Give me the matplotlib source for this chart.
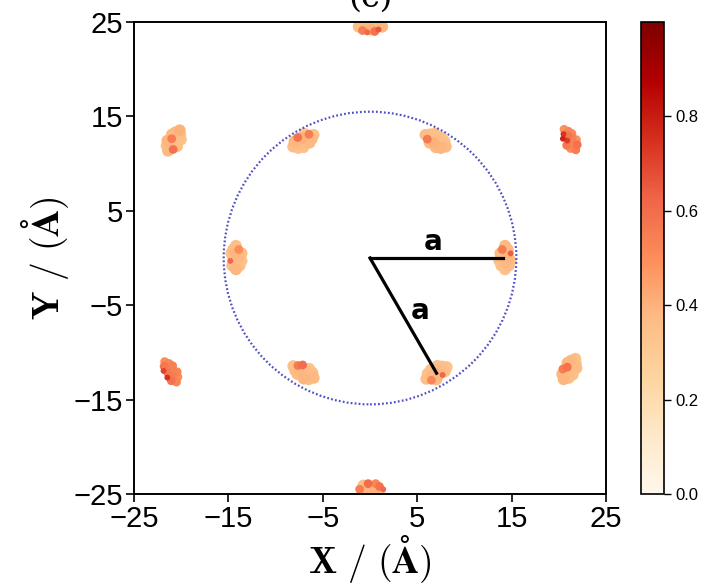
import matplotlib.pyplot as plt
import numpy as np
from matplotlib.patches import Circle

# site clusters (x, y, colour value)
top_x = [-1.2, -0.8, -0.8, -0.4, -0.3, -0.3, 0.1, 0.1, 0.5, 0.5, 0.5, 0.9, 0.9, 1.3]
top_y = [24.5, 24.9, 24.1, 24.5, 25.1, 23.9, 24.8, 24.2, 25.1, 24.0, 24.5, 24.8, 24.2, 24.5]
top_v = [0.36, 0.34, 0.55, 0.38, 0.33, 0.62, 0.36, 0.40, 0.33, 0.58, 0.37, 0.35, 0.66, 0.39]

bot_x = [-1.1, -0.7, -0.7, -0.3, -0.2, -0.2, 0.2, 0.2, 0.6, 0.6, 0.6, 1.0, 1.0, 1.4]
bot_y = [-24.5, -24.1, -24.9, -24.5, -23.9, -25.1, -24.2, -24.8, -23.9, -25.0, -24.5, -24.2, -24.8, -24.5]
bot_v = [0.55, 0.36, 0.34, 0.39, 0.60, 0.35, 0.37, 0.33, 0.52, 0.36, 0.40, 0.58, 0.34, 0.62]

uli_x = [-8.14, -8.00, -7.60, -7.45, -7.66, -7.06, -7.16, -6.86, -6.96, -6.41, -6.66, -6.47, -6.17, -5.97]
uli_y = [11.80, 12.35, 11.65, 12.20, 12.77, 11.73, 12.71, 12.19, 13.17, 12.21, 12.65, 13.11, 12.59, 13.05]
uli_v = [0.36, 0.39, 0.34, 0.37, 0.58, 0.35, 0.40, 0.36, 0.33, 0.38, 0.35, 0.55, 0.37, 0.34]

uri_x = [8.04, 7.90, 7.50, 7.35, 7.56, 6.96, 7.06, 6.76, 6.86, 6.31, 6.56, 6.37, 6.07, 5.87]
uri_y = [11.80, 12.35, 11.65, 12.20, 12.77, 11.73, 12.71, 12.19, 13.17, 12.21, 12.65, 13.11, 12.59, 13.05]
uri_v = [0.37, 0.35, 0.39, 0.36, 0.34, 0.38, 0.33, 0.40, 0.35, 0.37, 0.36, 0.34, 0.56, 0.36]

lft_x = [-14.2, -13.8, -14.6, -14.2, -13.6, -14.8, -13.9, -14.5, -13.6, -14.7, -14.2, -13.9, -14.5, -14.2]
lft_y = [-1.2, -0.8, -0.8, -0.4, -0.3, -0.3, 0.1, 0.1, 0.5, 0.5, 0.5, 0.9, 0.9, 1.3]
lft_v = [0.39, 0.35, 0.37, 0.36, 0.34, 0.62, 0.38, 0.35, 0.36, 0.33, 0.39, 0.50, 0.37, 0.35]

rgt_x = [14.3, 14.7, 13.9, 14.3, 14.9, 13.7, 14.6, 14.0, 14.9, 13.8, 14.3, 14.6, 14.0, 14.3]
rgt_y = [-1.2, -0.8, -0.8, -0.4, -0.3, -0.3, 0.1, 0.1, 0.5, 0.5, 0.5, 0.9, 0.9, 1.3]
rgt_v = [0.35, 0.37, 0.34, 0.38, 0.36, 0.35, 0.39, 0.36, 0.64, 0.37, 0.34, 0.36, 0.55, 0.38]

lli_x = [-5.96, -6.10, -6.50, -6.65, -6.44, -7.04, -6.94, -7.24, -7.14, -7.69, -7.44, -7.63, -7.93, -8.13]
lli_y = [-12.70, -12.15, -12.85, -12.30, -11.73, -12.77, -11.79, -12.31, -11.33, -12.29, -11.85, -11.39, -11.91, -11.45]
lli_v = [0.38, 0.36, 0.35, 0.37, 0.34, 0.39, 0.36, 0.35, 0.60, 0.37, 0.38, 0.56, 0.36, 0.35]

lri_x = [5.96, 6.10, 6.50, 6.65, 6.44, 7.04, 6.94, 7.24, 7.14, 7.69, 7.44, 7.63, 7.93, 8.13]
lri_y = [-12.80, -12.25, -12.95, -12.40, -11.83, -12.87, -11.89, -12.41, -11.43, -12.39, -11.95, -11.49, -12.01, -11.55]
lri_v = [0.36, 0.34, 0.52, 0.38, 0.35, 0.37, 0.36, 0.39, 0.34, 0.62, 0.37, 0.35, 0.36, 0.33]

ulo_x = [-21.40, -20.85, -21.55, -21.00, -20.43, -21.47, -20.49, -21.01, -20.03, -20.99, -20.55, -20.09, -20.61, -20.15]
ulo_y = [11.36, 11.50, 11.90, 12.05, 11.84, 12.44, 12.34, 12.64, 12.54, 13.09, 12.84, 13.03, 13.33, 13.53]
ulo_v = [0.38, 0.58, 0.36, 0.37, 0.35, 0.39, 0.36, 0.55, 0.34, 0.38, 0.36, 0.35, 0.37, 0.40]

uro_x = [21.80, 21.25, 21.95, 21.40, 20.83, 21.87, 20.89, 21.41, 20.43, 21.39, 20.95, 20.49, 21.01, 20.55]
uro_y = [11.46, 11.60, 12.00, 12.15, 11.94, 12.54, 12.44, 12.74, 12.64, 13.19, 12.94, 13.13, 13.43, 13.63]
uro_v = [0.55, 0.50, 0.58, 0.52, 0.56, 0.48, 0.72, 0.54, 0.78, 0.50, 0.57, 0.74, 0.52, 0.49]

llo_x = [-20.50, -21.05, -20.35, -20.90, -21.47, -20.43, -21.41, -20.89, -21.87, -20.91, -21.35, -21.81, -21.29, -21.75]
llo_y = [-13.14, -13.00, -12.60, -12.45, -12.66, -12.06, -12.16, -11.86, -11.96, -11.41, -11.66, -11.47, -11.17, -10.97]
llo_v = [0.52, 0.58, 0.50, 0.55, 0.75, 0.53, 0.56, 0.51, 0.70, 0.54, 0.49, 0.57, 0.52, 0.50]

lro_x = [20.50, 21.05, 20.35, 20.90, 21.47, 20.43, 21.41, 20.89, 21.87, 20.91, 21.35, 21.81, 21.29, 21.75]
lro_y = [-12.84, -12.70, -12.30, -12.15, -12.36, -11.76, -11.86, -11.56, -11.66, -11.11, -11.36, -11.17, -10.87, -10.67]
lro_v = [0.39, 0.36, 0.38, 0.37, 0.35, 0.55, 0.36, 0.58, 0.37, 0.39, 0.36, 0.34, 0.38, 0.35]

circle_r = 15.5
vec1_x = [0, 14.1]
vec1_y = [0, 0]
vec2_x = [0, 7.05]
vec2_y = [0, -12.2]

ticks = [-25, -15, -5, 5, 15, 25]
cbar_ticks = [0.0, 0.2, 0.4, 0.6, 0.8]

plt.rcParams['font.family'] = ['Liberation Sans', 'DejaVu Sans']
plt.rcParams['mathtext.fontset'] = 'cm'

xs = np.concatenate([top_x, bot_x, uli_x, uri_x, lft_x, rgt_x, lli_x, lri_x, ulo_x, uro_x, llo_x, lro_x])
ys = np.concatenate([top_y, bot_y, uli_y, uri_y, lft_y, rgt_y, lli_y, lri_y, ulo_y, uro_y, llo_y, lro_y])
vs = np.concatenate([top_v, bot_v, uli_v, uri_v, lft_v, rgt_v, lli_v, lri_v, ulo_v, uro_v, llo_v, lro_v])
order = np.argsort(vs)
sizes = np.where(vs[order] > 0.6, 18, np.where(vs[order] > 0.45, 40, 72))

fig = plt.figure(figsize=(7.06, 5.87), dpi=100)
ax = fig.add_axes([0.1898, 0.1584, 0.6686, 0.8041])
cax = fig.add_axes([0.908, 0.1584, 0.0326, 0.8041])

sc = ax.scatter(xs[order], ys[order], c=vs[order], cmap='OrRd', vmin=0, vmax=1.0,
                s=sizes, linewidths=0)
ax.add_patch(Circle((0, 0), circle_r, fill=False, ec='#4f4fc4', lw=1.6, ls=(0, (0.8, 1.0))))
ax.plot(vec1_x, vec1_y, color='black', lw=2.3)
ax.plot(vec2_x, vec2_y, color='black', lw=2.3)
ax.text(6.7, 0.2, 'a', fontsize=20, fontweight='bold', ha='center', va='bottom', family='DejaVu Sans')
ax.text(5.3, -5.6, 'a', fontsize=20, fontweight='bold', ha='center', va='center', family='DejaVu Sans')

ax.set_xlim(-25, 25)
ax.set_ylim(-25, 25)
ax.set_xticks(ticks)
ax.set_yticks(ticks)
ax.tick_params(labelsize=21, direction='out', length=6, width=1.2, pad=2)
for s in ax.spines.values():
    s.set_linewidth(1.4)
ax.set_xlabel(r'$\mathbf{X\ /\ (\AA)}$', fontsize=27, labelpad=0)
ax.set_ylabel(r'$\mathbf{Y\ /\ (\AA)}$', fontsize=27, labelpad=2)

cb = fig.colorbar(sc, cax=cax, ticks=cbar_ticks)
cb.ax.tick_params(labelsize=12, length=5, width=1)
cb.outline.set_linewidth(1.2)

fig.text(0.525, 0.988, '(c)', fontsize=24, ha='center', va='baseline', family='DejaVu Serif')

plt.savefig('out.png', dpi=100)
